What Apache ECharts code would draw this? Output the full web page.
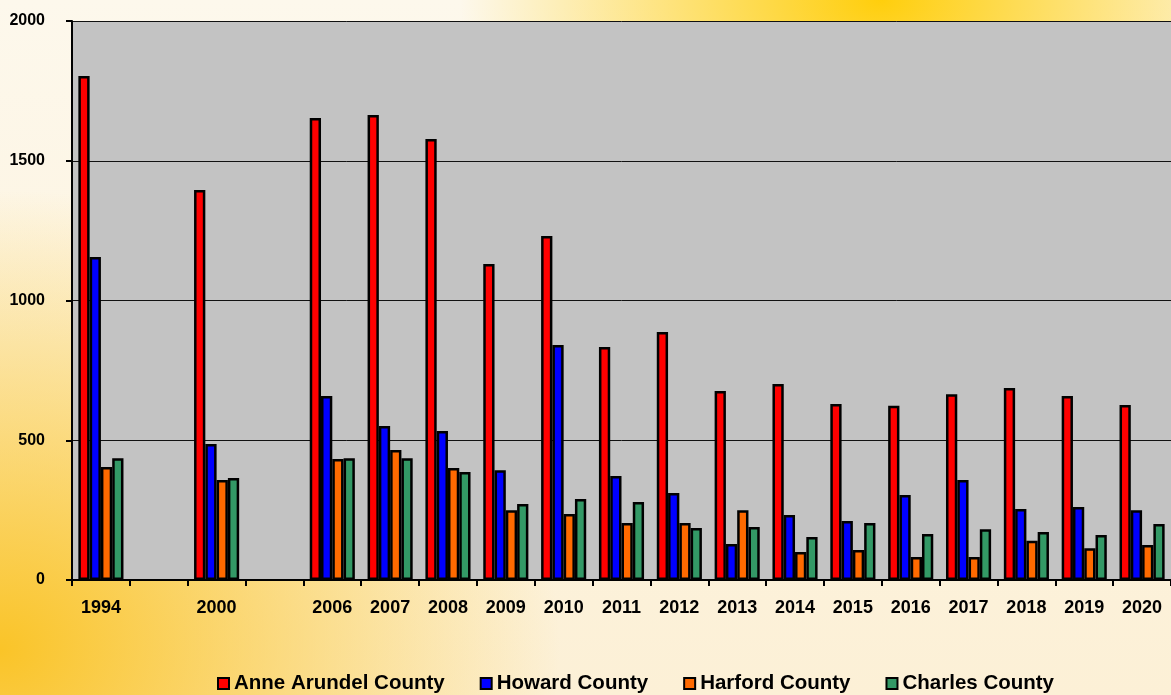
<!DOCTYPE html>
<html>
<head>
<meta charset="utf-8">
<script src="https://cdn.jsdelivr.net/npm/echarts@6/dist/echarts.min.js"></script>
<style>
  html, body { margin: 0; padding: 0; }
  body {
    width: 1171px; height: 695px; overflow: hidden;
    background:
      radial-gradient(ellipse 420px 260px at 880px 0px, rgba(255,204,0,0.95), rgba(255,204,0,0) 100%),
      radial-gradient(ellipse 560px 460px at 0px 650px, rgba(250,196,40,1), rgba(250,200,60,0) 100%),
      linear-gradient(180deg, #fdf8ec 0%, #fcf0d6 100%);
  }
  #chart { width: 1171px; height: 695px; }
</style>
</head>
<body>
<div id="chart"></div>
<script>
  // years on the axis; blank slots keep the gaps between 1994, 2000 and 2006
  var years = ['1994', '', '2000', '', '2006', '2007', '2008', '2009', '2010', '2011',
               '2012', '2013', '2014', '2015', '2016', '2017', '2018', '2019', '2020'];
  var anneArundel = [1803, '-', 1395, '-', 1653, 1664, 1578, 1131, 1231, 834, 887, 676, 701, 630, 623, 665, 687, 658, 626];
  var howard      = [1156, '-', 487, '-', 658, 551, 533, 393, 841, 372, 311, 129, 233, 211, 304, 358, 254, 261, 250];
  var harford     = [404, '-', 358, '-', 433, 465, 401, 250, 236, 204, 204, 250, 100, 107, 82, 82, 140, 114, 125];
  var charles     = [436, '-', 365, '-', 436, 436, 386, 272, 290, 279, 186, 190, 154, 204, 165, 182, 172, 161, 200];
  var yTicks = [0, 500, 1000, 1500, 2000];

  var font = '"Liberation Sans", Arial, sans-serif';
  var chart = echarts.init(document.getElementById('chart'));

  function bar(name, color, data) {
    return {
      name: name,
      type: 'bar',
      data: data,
      barGap: '0%',
      barCategoryGap: '22%',
      itemStyle: { color: color, borderColor: '#000', borderWidth: 2.5 }
    };
  }

  chart.setOption({
    backgroundColor: 'transparent',
    animation: false,
    textStyle: { fontFamily: font },
    grid: {
      left: 72, right: 0, top: 21, bottom: 115,
      show: true, backgroundColor: '#c3c3c3', borderWidth: 0
    },
    legend: {
      top: 673, left: 217, padding: 0,
      itemWidth: 11, itemHeight: 11, itemGap: 35,
      icon: 'rect',
      itemStyle: { borderColor: '#000', borderWidth: 2 },
      textStyle: { fontFamily: font, fontSize: 20.5, fontWeight: 'bold', color: '#000' },
      data: ['Anne Arundel County', 'Howard County', 'Harford County', 'Charles County']
    },
    xAxis: {
      type: 'category',
      data: years,
      axisLine: { lineStyle: { color: '#000', width: 2 } },
      axisTick: { show: true, interval: 0, length: 6, lineStyle: { color: '#000', width: 2 } },
      axisLabel: { interval: 0, color: '#000', fontWeight: 'bold', fontSize: 18, margin: 19 }
    },
    yAxis: {
      type: 'value',
      min: 0, max: 2000, interval: 500,
      axisLine: { show: true, lineStyle: { color: '#000', width: 2 } },
      axisTick: { show: true, length: 6, lineStyle: { color: '#000', width: 2 } },
      axisLabel: {
        color: '#000', fontWeight: 'bold', fontSize: 16, margin: 27,
        formatter: function (v) { return yTicks.indexOf(v) >= 0 ? String(v) : ''; }
      },
      splitLine: { lineStyle: { color: '#111', width: 1 } }
    },
    series: [
      bar('Anne Arundel County', '#ff0000', anneArundel),
      bar('Howard County', '#0000ff', howard),
      bar('Harford County', '#ff6a00', harford),
      bar('Charles County', '#339966', charles)
    ]
  });
</script>
</body>
</html>
